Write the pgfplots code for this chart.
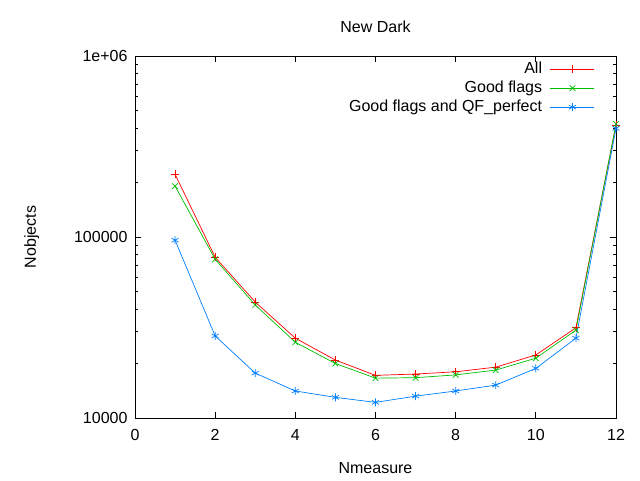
\documentclass[border=0pt]{standalone}
\usepackage{pgfplots}
\pgfplotsset{compat=1.18}
\usepackage{fontspec}
\setmainfont{Liberation Sans}
\definecolor{gred}{RGB}{255,0,0}
\definecolor{ggreen}{RGB}{0,192,0}
\definecolor{gblue}{RGB}{0,128,255}
\begin{document}
\fontsize{16}{19}\selectfont
\begin{tikzpicture}
\path[use as bounding box, fill=white] (0,0) rectangle (640pt,480pt);
\begin{axis}[
  at={(135pt,62pt)}, anchor=south west,
  scale only axis, width=481pt, height=362pt,
  ymode=log, xmin=0, xmax=12, ymin=1e4, ymax=1e6,
  xtick={0,2,4,6,8,10,12},
  ytick={1e4,1e5,1e6}, yticklabels={10000,100000,1e+06},
  minor xtick={},
  tick align=inside, major tick length=6pt, minor tick length=3pt,
  tick style={black, line width=0.8pt},
  axis line style={line width=0.8pt},
  /pgf/number format/assume math mode=true,
  ticklabel style={font=\fontsize{16}{19}\selectfont},
  xticklabel style={yshift=-6pt},
  yticklabel style={xshift=-2pt},
  label style={font=\fontsize{16}{19}\selectfont},
  title style={font=\fontsize{16}{19}\selectfont, yshift=12pt},
  title={New Dark},
  xlabel={Nmeasure}, ylabel={Nobjects},
  xlabel style={yshift=-11pt},
  ylabel style={yshift=24pt},
  legend plot pos=right,
  legend cell align=right,
  legend style={draw=none, fill=none, at={(1,1)}, anchor=north east,
    xshift=-18pt, yshift=-2pt, font=\fontsize{16}{19}\selectfont,
    row sep=1pt, nodes={inner xsep=8pt}},
  legend image code/.code={%
    \draw[mark repeat=2, mark phase=2, #1] plot coordinates {(0pt,0pt) (22pt,0pt) (44pt,0pt)};},
  every axis plot/.append style={line width=0.7pt},
]
\addplot[gred, mark=+, mark size=4pt] coordinates {
(1,222000) (2,77300) (3,43700) (4,27600) (5,20900) (6,17200)
(7,17500) (8,18000) (9,19100) (10,22300) (11,31500) (12,416000)};
\addlegendentry{All}
\addplot[ggreen, mark=x, mark size=4pt] coordinates {
(1,191000) (2,75300) (3,42100) (4,26200) (5,20000) (6,16600)
(7,16700) (8,17300) (9,18400) (10,21400) (11,30600) (12,421000)};
\addlegendentry{Good flags}
\addplot[gblue, mark=asterisk, mark size=4pt] coordinates {
(1,96000) (2,28400) (3,17700) (4,14100) (5,13000) (6,12200)
(7,13200) (8,14100) (9,15200) (10,18800) (11,27600) (12,398000)};
\addlegendentry{Good flags and QF\_perfect}
\end{axis}
\end{tikzpicture}
\end{document}
